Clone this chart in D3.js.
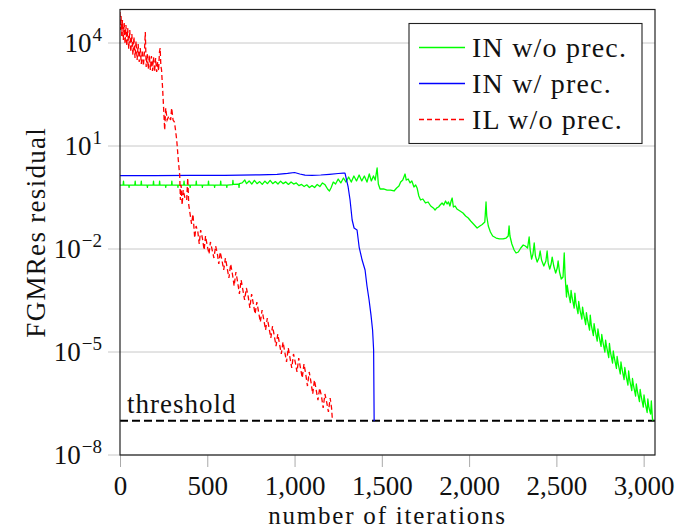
<!DOCTYPE html>
<html lang="en">
  <head>
    <meta charset="utf-8">
    <title>FGMRes residual</title>
    <script src="https://d3js.org/d3.v7.min.js"></script>
    <style media="screen">
      body { margin: 0; background: #fff; }
      text { font-family: "Liberation Serif", "DejaVu Serif", serif; fill: #111; }
    </style>
  </head>
  <body>
    <div id="chart"></div>
    <script type="text/javascript">
      // data: [iteration, residual]
      let inNoPrec = [
        [0,0.73],[18,0.73],[20,0.95],[22,0.73],[50,0.73],[52,0.62],[54,0.73],[85,0.73],[87,0.95],[89,0.73],
        [120,0.73],[122,0.95],[124,0.73],[155,0.73],[157,0.62],[159,0.73],[190,0.73],[192,0.95],[194,0.73],[225,0.73],
        [227,0.95],[229,0.73],[260,0.73],[262,0.62],[264,0.73],[295,0.73],[297,0.95],[299,0.73],[330,0.73],[332,0.62],
        [334,0.73],[365,0.73],[367,0.95],[369,0.73],[400,0.73],[402,0.62],[404,0.73],[435,0.73],[437,0.95],[439,0.73],
        [470,0.73],[472,0.62],[474,0.73],[505,0.73],[507,0.95],[509,0.73],[540,0.73],[542,0.62],[544,0.73],[575,0.73],
        [577,0.95],[579,0.73],[610,0.73],[612,0.62],[614,0.73],[645,0.75],[647,1.0],[649,0.76],[680,0.78],[682,0.62],
        [684,0.80],[700,0.84],[715,1.02],[725,0.80],[740,0.96],[755,0.78],[770,1.0],[785,0.80],[800,0.92],[815,0.76],
        [830,0.95],[845,0.80],[860,1.0],[875,0.80],[890,0.92],[905,0.78],[920,0.95],[935,0.80],[950,0.90],[965,0.76],
        [980,0.90],[995,0.78],[1010,0.84],[1025,0.70],[1040,0.76],[1055,0.66],[1070,0.74],[1085,0.62],[1100,0.70],[1115,0.62],
        [1130,0.76],[1145,0.66],[1160,0.84],[1175,0.74],[1190,0.55],[1200,0.49],[1210,0.62],[1222,0.89],
        [1235,0.78],[1250,1.09],[1265,0.84],[1280,1.17],[1295,0.89],[1310,1.25],[1325,0.89],[1340,1.34],[1355,0.96],[1370,1.43],
        [1385,0.96],[1400,1.34],[1415,0.89],[1428,1.53],[1440,0.96],[1452,1.34],[1462,1.02],[1473,2.29],[1480,0.78],[1490,0.56],
        [1510,0.56],[1530,0.52],[1550,0.52],[1570,0.49],[1585,0.60],[1598,0.68],[1608,0.89],[1620,1.02],[1633,1.53],[1640,1.02],
        [1651,1.09],[1662,0.84],[1672,0.96],[1684,0.64],[1694,0.73],[1702,0.60],[1712,0.35],[1722,0.267],[1735,0.286],[1750,0.219],
        [1765,0.234],[1780,0.179],[1795,0.157],[1805,0.137],[1815,0.157],[1825,0.167],[1834,0.191],[1845,0.219],[1855,0.191],[1865,0.250],
        [1874,0.205],[1882,0.234],[1890,0.179],[1897,0.250],[1903,0.306],[1910,0.167],[1920,0.179],[1930,0.147],[1948,0.128],[1965,0.112],
        [1980,0.0915],[1995,0.080],[2009,0.0654],[2025,0.0535],[2046,0.0409],[2062,0.0468],[2075,0.0517],[2090,0.0611],[2097,0.234],[2101,0.0915],
        [2110,0.0468],[2122,0.0313],[2135,0.0239],[2155,0.0209],[2174,0.0196],[2195,0.0196],[2212,0.0209],[2224,0.0239],[2229,0.0468],[2234,0.0239],
        [2245,0.0140],[2258,0.00935],[2269,0.00765],[2282,0.00818],[2296,0.0107],[2310,0.0131],[2322,0.01223],[2335,0.0107],[2344,0.0224],[2350,0.00935],
        [2358,0.0051],[2366,0.00715],[2373,0.0150],[2380,0.00625],[2390,0.00418],[2400,0.00547],[2407,0.00875],[2415,0.00478],[2428,0.0032],[2440,0.00447],
        [2447,0.00875],[2453,0.0039],[2462,0.00262],[2470,0.00366],[2476,0.0058],[2485,0.0032],[2496,0.002],[2505,0.0028],[2510,0.00447],[2518,0.00214],
        [2528,0.00134],[2538,0.00153],[2545,0.00765],[2550,0.00164],[2558,4.0e-4],[2562,8.9e-4],[2568,5.59e-4],[2580,2.76e-4],[2584,6.2e-4],[2590,3.87e-4],
        [2602,1.91e-4],[2606,5.2e-4],[2612,2.67e-4],[2624,1.32e-4],[2628,2.96e-4],[2634,1.79e-4],[2646,9.15e-5],[2650,2.04e-4],[2656,1.28e-4],[2668,6.3e-5],
        [2672,1.41e-4],[2678,8.85e-5],[2690,4.37e-5],[2694,1.19e-4],[2700,6.11e-5],[2712,3.02e-5],[2716,6.75e-5],[2722,4.23e-5],[2734,2.09e-5],[2738,4.68e-5],
        [2744,2.92e-5],[2756,1.45e-5],[2760,3.23e-5],[2766,2.02e-5],[2778,1.0e-5],[2782,2.23e-5],[2788,1.40e-5],[2800,6.9e-6],[2804,1.77e-5],[2810,9.7e-6],
        [2822,4.78e-6],[2826,1.07e-5],[2832,6.69e-6],[2844,3.31e-6],[2848,7.4e-6],[2854,4.62e-6],[2866,2.29e-6],[2870,5.11e-6],[2876,3.2e-6],[2888,1.58e-6],
        [2892,3.54e-6],[2898,2.21e-6],[2910,1.09e-6],[2914,2.8e-6],[2920,1.53e-6],[2932,7.56e-7],[2936,1.69e-6],[2942,1.05e-6],[2954,5.23e-7],[2958,1.17e-6],
        [2964,7.31e-7],[2976,3.61e-7],[2980,8.1e-7],[2986,5.06e-7],[2998,2.5e-7],[3002,5.59e-7],[3008,3.49e-7],[3020,1.73e-7],[3024,4.27e-7],[3030,2.42e-7],
        [3040,1.56e-7],[3044,3.74e-7],[3050,1.19e-7],[3053,1.0e-7]
      ];

      let inPrec = [
        [0,1.38],[200,1.38],[400,1.39],[600,1.40],[800,1.44],[900,1.50],[960,1.60],[1000,1.69],[1030,1.53],[1060,1.42],
        [1100,1.40],[1150,1.43],[1200,1.50],[1250,1.58],[1280,1.63],[1289,1.63],[1307,0.64],[1318,0.267],[1330,0.070],[1341,0.0409],
        [1358,0.0358],[1370,0.0114],[1387,0.00478],[1404,0.00245],[1415,8.36e-4],[1427,3.27e-4],[1438,1.19e-4],[1447,4.37e-5],[1453,1.14e-5],[1456,9.7e-8]
      ];

      let ilNoPrec = [
        [0,8.0e4],[3,2.39e4],[6,6.1e4],[10,1.6e4],[14,4.67e4],[19,1.22e4],[24,3.83e4],[29,9.35e3],[34,3.34e4],[39,8.18e3],
        [44,2.74e4],[50,6.68e3],[56,2.39e4],[62,5.47e3],[68,1.83e4],[74,4.47e3],[80,1.5e4],[86,3.66e3],[92,1.14e4],[98,3.2e3],
        [104,9.35e3],[110,2.8e3],[116,7.15e3],[122,2.45e3],[128,6.25e3],[134,2.14e3],[140,5.47e3],[145,2.09e4],[150,2.0e3],[156,4.78e3],
        [162,1.75e3],[168,4.47e3],[174,1.64e3],[180,4.18e3],[186,1.53e3],[192,3.91e3],[198,1.43e3],[204,3.66e3],[210,1.43e3],[216,2.8e3],
        [221,1.53e3],[226,5.47e3],[230,7.15e3],[234,2.14e3],[238,1.64e3],[243,598],[249,156],[256,29.2],[262,128],[270,57.2],
        [280,74.8],[290,57.2],[296,128],[304,57.2],[312,50],[318,29.2],[325,14.9],[334,3.91],[342,1.43],[346,0.267],
        [350,0.731],[356,0.191],[362,0.523],[372,0.305],[382,0.267],[388,1.17],[394,0.191],[400,0.119],[410,0.0534],[418,0.104],
        [428,0.0209],[436,0.0467],[446,0.0313],[454,0.0140],[462,0.0357],[472,0.0209],[482,0.00935],[490,0.0239],[500,0.01223],[510,0.00715],
        [518,0.0160],[528,0.00935],[538,0.00547],[548,0.01223],[558,0.00715],[566,0.00366],[574,0.00818],[584,0.00478],[594,0.00245],[604,0.00547],
        [614,0.0028],[624,0.00143],[634,0.00366],[644,0.00187],[654,8.36e-4],[664,0.00214],[674,0.00109],[684,4.89e-4],[694,0.00125],[704,6.39e-4],
        [714,3.27e-4],[724,7.31e-4],[734,4.27e-4],[744,1.91e-4],[754,4.89e-4],[764,2.5e-4],[774,1.28e-4],[784,2.86e-4],[794,1.46e-4],[804,7.48e-5],
        [814,1.67e-4],[824,8.55e-5],[834,4.37e-5],[844,9.78e-5],[854,5.0e-5],[864,2.56e-5],[874,5.72e-5],[884,2.92e-5],[894,1.49e-5],[904,3.34e-5],
        [914,1.71e-5],[924,8.75e-6],[934,1.95e-5],[944,1.0e-5],[954,5.11e-6],[964,1.31e-5],[974,6.69e-6],[984,3.42e-6],[994,8.75e-6],[1004,5.11e-6],
        [1014,2.62e-6],[1024,6.69e-6],[1034,3.42e-6],[1044,1.75e-6],[1054,4.47e-6],[1064,2.29e-6],[1074,1.02e-6],[1084,2.62e-6],[1094,1.34e-6],[1104,5.98e-7],
        [1114,1.53e-6],[1124,7.82e-7],[1134,3.99e-7],[1144,8.94e-7],[1154,5.23e-7],[1164,2.34e-7],[1174,5.98e-7],[1184,3.49e-7],[1194,1.79e-7],[1204,4.57e-7],
        [1212,2.34e-7],[1216,1.19e-7]
      ];

      let seriesNames = ["IN w/o prec.", "IN w/ prec.", "IL w/o prec."];
      let xTicks = [0, 500, 1000, 1500, 2000, 2500, 3000];
      let yTickExps = [-8, -5, -2, 1, 4];
      let threshold = 1e-7;

      let w = 679;
      let h = 530;
      let mLeft = 120, mRight = 655, mTop = 9.5, mBottom = 455;

      let x = d3.scaleLinear().domain([0, 3065]).range([mLeft, mRight]);
      let y = d3.scaleLog().domain([1e-8, 9.46e4]).range([mBottom, mTop]);

      let svg = d3.select("#chart").append("svg")
                  .attr("width", w)
                  .attr("height", h);

      svg.append("defs").append("clipPath").attr("id", "plotclip")
         .append("rect")
         .attr("x", mLeft).attr("y", mTop)
         .attr("width", mRight - mLeft).attr("height", mBottom - mTop);

      // grid lines at the major y ticks (they also make the outside ticks)
      svg.selectAll("line.grid")
         .data(yTickExps)
         .enter()
         .append("line")
         .attr("class", "grid")
         .attr("x1", mLeft - 12)
         .attr("x2", mRight)
         .attr("y1", d => y(Math.pow(10, d)))
         .attr("y2", d => y(Math.pow(10, d)))
         .attr("stroke", "#c8c8c8")
         .attr("stroke-width", 1);

      // x ticks (outside, gray)
      let xAxis = d3.axisBottom(x)
                    .tickValues(xTicks)
                    .tickSize(12)
                    .tickFormat(d3.format(","));
      let gx = svg.append("g")
                  .attr("transform", "translate(0," + mBottom + ")")
                  .call(xAxis);
      gx.select(".domain").remove();
      gx.selectAll(".tick line").attr("stroke", "#aaa");
      gx.selectAll(".tick text")
        .attr("y", 40)
        .attr("dy", 0)
        .style("font-size", "27px")
        .attr("fill", "#111");

      // y tick labels 10^k
      let gy = svg.append("g");
      let yt = gy.selectAll("g")
                 .data(yTickExps)
                 .enter()
                 .append("g")
                 .attr("transform", d => "translate(0," + y(Math.pow(10, d)) + ")");
      yt.append("text")
        .attr("x", 102)
        .attr("y", 9)
        .attr("text-anchor", "end")
        .style("font-size", "27px")
        .each(function(d) {
          let t = d3.select(this);
          t.append("tspan").text("10");
          t.append("tspan")
           .attr("dy", -11)
           .attr("dx", 1)
           .style("font-size", "19px")
           .text(d < 0 ? "\u2212" + (-d) : String(d));
        });

      // threshold line
      svg.append("line")
         .attr("x1", mLeft).attr("x2", mRight)
         .attr("y1", y(threshold)).attr("y2", y(threshold))
         .attr("stroke", "#000")
         .attr("stroke-width", 2)
         .attr("stroke-dasharray", "8,4");
      svg.append("text")
         .attr("x", 127)
         .attr("y", y(threshold) - 8)
         .style("font-size", "27px")
         .style("letter-spacing", "1px")
         .text("threshold");

      let line = d3.line()
                   .x(d => x(d[0]))
                   .y(d => y(d[1]));

      let plot = svg.append("g").attr("clip-path", "url(#plotclip)");

      plot.append("path")
          .datum(inNoPrec)
          .attr("d", line)
          .attr("fill", "none")
          .attr("stroke", "#00ff00")
          .attr("stroke-width", 1.3)
          .attr("stroke-linejoin", "round");

      plot.append("path")
          .datum(inPrec)
          .attr("d", line)
          .attr("fill", "none")
          .attr("stroke", "#0000ff")
          .attr("stroke-width", 1.2)
          .attr("stroke-linejoin", "round");

      plot.append("path")
          .datum(ilNoPrec)
          .attr("d", line)
          .attr("fill", "none")
          .attr("stroke", "#ff0000")
          .attr("stroke-width", 1.3)
          .attr("stroke-dasharray", "5,3");

      // frame
      svg.append("rect")
         .attr("x", mLeft).attr("y", mTop)
         .attr("width", mRight - mLeft).attr("height", mBottom - mTop)
         .attr("fill", "none")
         .attr("stroke", "#222")
         .attr("stroke-width", 1.2);

      // axis labels
      svg.append("text")
         .attr("x", (mLeft + mRight) / 2)
         .attr("y", 524)
         .attr("text-anchor", "middle")
         .style("font-size", "25px")
         .style("letter-spacing", "1.8px")
         .text("number of iterations");

      svg.append("text")
         .attr("transform", "translate(45," + (mTop + mBottom) / 2 + ") rotate(-90)")
         .attr("text-anchor", "middle")
         .style("font-size", "27px")
         .style("letter-spacing", "1.3px")
         .text("FGMRes residual");

      // legend
      let legend = svg.append("g");
      legend.append("rect")
            .attr("x", 409).attr("y", 23.5)
            .attr("width", 233).attr("height", 120)
            .attr("fill", "#fff")
            .attr("stroke", "#222")
            .attr("stroke-width", 1.1);
      let colors = ["#00ff00", "#0000ff", "#ff0000"];
      let dashes = [null, null, "5,3"];
      let items = legend.selectAll("g.item")
                        .data(seriesNames)
                        .enter()
                        .append("g")
                        .attr("class", "item")
                        .attr("transform", (d, i) => "translate(0," + (47.5 + i * 36) + ")");
      items.append("line")
           .attr("x1", 419).attr("x2", 465)
           .attr("y1", 0).attr("y2", 0)
           .attr("stroke", (d, i) => colors[i])
           .attr("stroke-width", 1.3)
           .attr("stroke-dasharray", (d, i) => dashes[i]);
      items.append("text")
           .attr("x", 472)
           .attr("y", 9.5)
           .style("font-size", "28px")
           .style("letter-spacing", "1.2px")
           .text(d => d);
    </script>
  </body>
</html>
